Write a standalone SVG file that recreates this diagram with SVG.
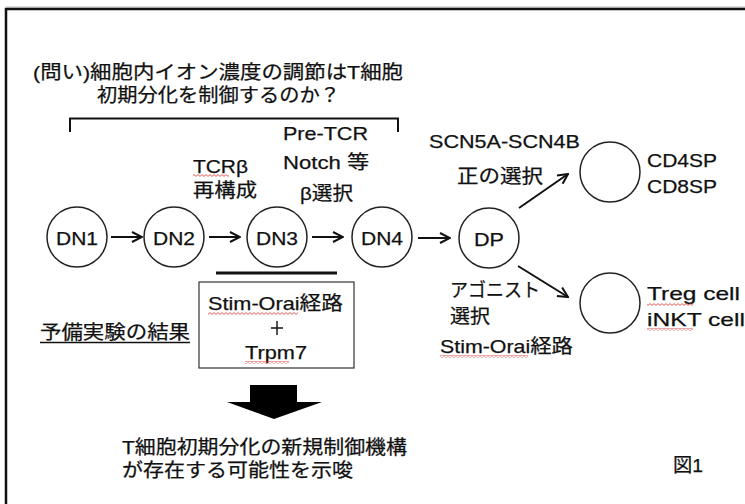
<svg xmlns="http://www.w3.org/2000/svg" width="745" height="504" viewBox="0 0 745 504">
<style>
text{font-family:"Liberation Sans","Noto Sans CJK JP",sans-serif;font-size:19px;fill:#111;stroke:#111;stroke-width:0.25}
.c{text-anchor:middle}
.node circle{fill:#fff;stroke:#222;stroke-width:1.5}
.conn line{stroke:#111;stroke-width:2}
.wavy{fill:url(#wave)}
</style>
<defs>
<marker id="ah2" viewBox="0 0 12 12" refX="11" refY="6" markerWidth="12" markerHeight="12" markerUnits="userSpaceOnUse" orient="auto">
<path d="M1,1 L11,6 L1,11" fill="none" stroke="#111" stroke-width="2"/>
</marker>
<pattern id="wave" patternUnits="userSpaceOnUse" width="4" height="3">
<polyline points="0,2.4 2,0.6 4,2.4" fill="none" stroke="#e03030" stroke-width="0.8"/>
</pattern>
</defs>
<rect width="745" height="504" fill="#fff"/>
<line x1="6" y1="7" x2="745" y2="7" stroke="#bbb" stroke-width="1"/>
<rect x="6" y="9" width="780" height="540" fill="none" stroke="#111" stroke-width="2.5"/>

<g id="question">
<text x="33" y="79" textLength="370" lengthAdjust="spacingAndGlyphs">(問い)細胞内イオン濃度の調節はT細胞</text>
<text x="97" y="102" textLength="243" lengthAdjust="spacingAndGlyphs">初期分化を制御するのか？</text>
<path d="M70,132 V118.5 H398 V132" fill="none" stroke="#111" stroke-width="2"/>
</g>

<g id="labels-top">
<text x="193" y="173" textLength="55" lengthAdjust="spacingAndGlyphs">TCRβ</text>
<text x="193" y="197" textLength="64" lengthAdjust="spacingAndGlyphs">再構成</text>
<text x="283" y="140" textLength="85" lengthAdjust="spacingAndGlyphs">Pre-TCR</text>
<text x="283" y="169" textLength="86" lengthAdjust="spacingAndGlyphs">Notch 等</text>
<text x="300" y="200" textLength="53" lengthAdjust="spacingAndGlyphs">β選択</text>
<text x="429" y="148" textLength="151" lengthAdjust="spacingAndGlyphs">SCN5A-SCN4B</text>
<text x="457" y="183" textLength="86" lengthAdjust="spacingAndGlyphs">正の選択</text>
</g>

<g id="DN1" class="node"><circle cx="77" cy="237" r="30"/><text class="c" x="77" y="245" textLength="42" lengthAdjust="spacingAndGlyphs">DN1</text></g>
<g id="DN2" class="node"><circle cx="174" cy="237" r="30"/><text class="c" x="174" y="245" textLength="42" lengthAdjust="spacingAndGlyphs">DN2</text></g>
<g id="DN3" class="node"><circle cx="277" cy="237" r="30"/><text class="c" x="277" y="245" textLength="42" lengthAdjust="spacingAndGlyphs">DN3</text></g>
<g id="DN4" class="node"><circle cx="382" cy="237" r="30"/><text class="c" x="382" y="245" textLength="42" lengthAdjust="spacingAndGlyphs">DN4</text></g>
<g id="DP" class="node"><circle cx="489" cy="238" r="30"/><text class="c" x="489" y="246" textLength="30" lengthAdjust="spacingAndGlyphs">DP</text></g>
<g id="SP" class="node"><circle cx="610" cy="172" r="30"/>
<text x="647" y="167" textLength="70" lengthAdjust="spacingAndGlyphs">CD4SP</text>
<text x="647" y="193" textLength="70" lengthAdjust="spacingAndGlyphs">CD8SP</text></g>
<g id="Treg" class="node"><circle cx="610" cy="303" r="30"/>
<text x="647" y="300" textLength="93" lengthAdjust="spacingAndGlyphs">Treg cell</text>
<text x="647" y="326" textLength="98" lengthAdjust="spacingAndGlyphs">iNKT cell</text></g>

<g id="connectors" class="conn">
<line x1="111" y1="237" x2="142" y2="237" marker-end="url(#ah2)"/>
<line x1="209" y1="237" x2="240" y2="237" marker-end="url(#ah2)"/>
<line x1="312" y1="237" x2="343" y2="237" marker-end="url(#ah2)"/>
<line x1="418" y1="238" x2="450" y2="238" marker-end="url(#ah2)"/>
<line x1="519" y1="208" x2="568" y2="174" marker-end="url(#ah2)"/>
<line x1="518" y1="266" x2="568" y2="297" marker-end="url(#ah2)"/>
</g>

<g id="agonist">
<text x="450" y="297" textLength="90" lengthAdjust="spacingAndGlyphs">アゴニスト</text>
<text x="450" y="323" textLength="40" lengthAdjust="spacingAndGlyphs">選択</text>
<text x="440" y="353" textLength="133" lengthAdjust="spacingAndGlyphs">Stim-Orai経路</text>
</g>

<g id="result">
<line x1="216" y1="273" x2="337" y2="273" stroke="#111" stroke-width="3"/>
<rect x="199" y="282" width="155" height="86" fill="#fff" stroke="#333" stroke-width="1.2"/>
<text x="208" y="310" textLength="135" lengthAdjust="spacingAndGlyphs">Stim-Orai経路</text>
<path d="M277,321 V335 M271,328 H283" stroke="#111" stroke-width="1.4"/>
<text x="245" y="359" textLength="62" lengthAdjust="spacingAndGlyphs">Trpm7</text>
<text x="40" y="339" textLength="150" lengthAdjust="spacingAndGlyphs">予備実験の結果</text>
<line x1="40" y1="342.5" x2="190" y2="342.5" stroke="#111" stroke-width="1.5"/>
</g>

<g id="big-arrow">
<polygon points="250,385 297,385 297,402 322,402 274,419 227,402 250,402" fill="#000"/>
</g>

<g id="conclusion">
<text x="122" y="454" textLength="285" lengthAdjust="spacingAndGlyphs">T細胞初期分化の新規制御機構</text>
<text x="122" y="477" textLength="231" lengthAdjust="spacingAndGlyphs">が存在する可能性を示唆</text>
<text x="673" y="472" textLength="30" lengthAdjust="spacingAndGlyphs">図1</text>
</g>

<g id="spellcheck">
<rect class="wavy" x="193" y="174" width="36" height="3"/>
<rect class="wavy" x="208" y="312" width="90" height="3"/>
<rect class="wavy" x="245" y="361" width="44" height="3"/>
<rect class="wavy" x="647" y="303" width="46" height="3"/>
<rect class="wavy" x="647" y="328" width="46" height="3"/>
<rect class="wavy" x="440" y="355" width="88" height="3"/>
</g>
</svg>
